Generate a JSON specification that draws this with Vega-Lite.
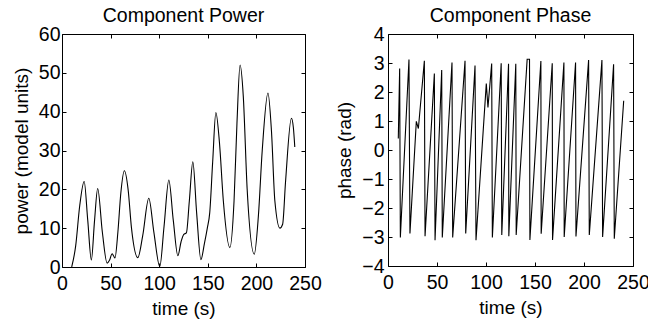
{
  "$schema": "https://vega.github.io/schema/vega-lite/v6.json",
  "background": "white",
  "padding": {"left": 11, "top": 5, "right": 5, "bottom": 5},
  "bounds": "flush",
  "spacing": 83,
  "config": {
    "view": {"stroke": "black", "strokeWidth": 1},
    "axis": {
      "grid": false, "domain": false, "tickColor": "black", "tickSize": -4,
      "labelColor": "black", "titleColor": "black",
      "labelFont": "Liberation Sans", "titleFont": "Liberation Sans",
      "labelFontSize": 19.5, "titleFontSize": 19, "titleFontWeight": "normal",
      "labelFlush": false, "labelOverlap": false
    },
    "axisX": {"labelPadding": 11, "titlePadding": 7},
    "axisY": {"labelPadding": 6, "titlePadding": 7},
    "title": {"font": "Liberation Sans", "fontSize": 19.5, "fontWeight": "normal", "color": "black", "offset": -2}
  },
  "datasets": {
    "power": [
      {"t":10,"p":0},{"t":14,"p":5.3},{"t":18.2,"p":15.7},{"t":22.8,"p":22.0},{"t":26.5,"p":12},{"t":30.2,"p":1.8},
      {"t":33.5,"p":12},{"t":36.7,"p":20.2},{"t":41.5,"p":9},{"t":46.4,"p":1.0},{"t":49,"p":1.8},{"t":51.5,"p":3.4},
      {"t":53,"p":2.9},{"t":54.5,"p":2.3},{"t":57.5,"p":9},{"t":60.5,"p":19},{"t":64.2,"p":24.8},{"t":68,"p":20},
      {"t":71.5,"p":10},{"t":78,"p":2.4},{"t":83,"p":8},{"t":89.3,"p":17.7},{"t":94.5,"p":9},{"t":100.6,"p":0.1},
      {"t":105,"p":10.5},{"t":109.9,"p":22.4},{"t":114.5,"p":12},{"t":119.2,"p":2.9},{"t":122.5,"p":6.5},{"t":125.3,"p":8.4},
      {"t":128,"p":8.8},{"t":131,"p":17},{"t":134.6,"p":27.1},{"t":138.5,"p":14},{"t":142.9,"p":1.9},{"t":146.5,"p":6},
      {"t":149.5,"p":10},{"t":152,"p":14},{"t":155,"p":27},{"t":158.3,"p":39.8},{"t":162,"p":32},{"t":166,"p":17},
      {"t":172.7,"p":5.0},{"t":177,"p":17},{"t":180,"p":37},{"t":183.2,"p":52},{"t":186.5,"p":44},{"t":190.5,"p":20},
      {"t":197.8,"p":3.3},{"t":202,"p":13},{"t":206,"p":30},{"t":211.9,"p":44.8},{"t":215.5,"p":35},{"t":219,"p":17},
      {"t":224.2,"p":10.0},{"t":227,"p":11},{"t":230,"p":22},{"t":236,"p":38.3},{"t":238,"p":36},{"t":239.5,"p":30.9}
    ],
    "phase": [
      {"t":10.5,"v":0.4},{"t":11.9,"v":2.81},{"t":12.6,"v":-3.02},{"t":21.4,"v":3.12},{"t":22.4,"v":-2.88},
      {"t":28.9,"v":0.99},{"t":31,"v":0.74},{"t":37.1,"v":3.08},{"t":37.8,"v":-2.97},{"t":47.3,"v":2.64},
      {"t":48,"v":-3.11},{"t":54.8,"v":2.76},{"t":55.4,"v":-3.02},{"t":65.3,"v":3.02},{"t":66,"v":-3.02},
      {"t":78.6,"v":3.08},{"t":79.3,"v":-2.88},{"t":88.8,"v":2.91},{"t":89.8,"v":-3.11},{"t":100.3,"v":2.29},
      {"t":102,"v":1.47},{"t":105.8,"v":2.98},{"t":106.5,"v":-3.02},{"t":115.5,"v":2.99},{"t":116.1,"v":-2.93},
      {"t":123,"v":2.97},{"t":123.3,"v":-2.97},{"t":130.4,"v":2.97},{"t":130.8,"v":-2.93},{"t":142,"v":3.13},
      {"t":144.4,"v":3.13},{"t":144.8,"v":-3.1},{"t":156,"v":3.07},{"t":156.3,"v":-2.89},{"t":167.6,"v":2.99},
      {"t":167.9,"v":-3.1},{"t":179.5,"v":3.02},{"t":179.8,"v":-3.0},{"t":191.4,"v":3.02},{"t":191.8,"v":-2.98},
      {"t":204.7,"v":3.1},{"t":205.4,"v":-2.93},{"t":218.3,"v":3.1},{"t":219,"v":-3.0},{"t":230.2,"v":2.96},
      {"t":230.9,"v":-3.06},{"t":240.5,"v":1.7}
    ]
  },
  "hconcat": [
    {
      "width": 243, "height": 233,
      "title": "Component Power",
      "data": {"name": "power"},
      "layer": [
        {
          "mark": {"type": "line", "color": "black", "strokeWidth": 1.1, "interpolate": "monotone"},
          "encoding": {
            "x": {"field": "t", "type": "quantitative", "scale": {"domain": [0, 250], "nice": false},
                  "axis": {"values": [0, 50, 100, 150, 200, 250], "title": "time (s)", "orient": "bottom"}},
            "y": {"field": "p", "type": "quantitative", "scale": {"domain": [0, 60], "nice": false},
                  "axis": {"values": [0, 10, 20, 30, 40, 50, 60], "title": "power (model units)", "orient": "left"}}
          }
        },
        {
          "mark": {"type": "line", "strokeOpacity": 0},
          "encoding": {
            "x": {"field": "t", "type": "quantitative", "scale": {"domain": [0, 250], "nice": false},
                  "axis": {"values": [0, 50, 100, 150, 200, 250], "title": null, "labels": false, "orient": "top"}},
            "y": {"field": "p", "type": "quantitative", "scale": {"domain": [0, 60], "nice": false},
                  "axis": {"values": [0, 10, 20, 30, 40, 50, 60], "title": null, "labels": false, "orient": "right"}}
          }
        }
      ],
      "resolve": {"axis": {"x": "independent", "y": "independent"}}
    },
    {
      "width": 245, "height": 232,
      "title": "Component Phase",
      "data": {"name": "phase"},
      "layer": [
        {
          "mark": {"type": "line", "color": "black", "strokeWidth": 1.1},
          "encoding": {
            "x": {"field": "t", "type": "quantitative", "scale": {"domain": [0, 250], "nice": false},
                  "axis": {"values": [0, 50, 100, 150, 200, 250], "title": "time (s)", "orient": "bottom"}},
            "y": {"field": "v", "type": "quantitative", "scale": {"domain": [-4, 4], "nice": false},
                  "axis": {"values": [-4, -3, -2, -1, 0, 1, 2, 3, 4], "title": "phase (rad)", "orient": "left", "labelPadding": 8}}
          }
        },
        {
          "mark": {"type": "line", "strokeOpacity": 0},
          "encoding": {
            "x": {"field": "t", "type": "quantitative", "scale": {"domain": [0, 250], "nice": false},
                  "axis": {"values": [0, 50, 100, 150, 200, 250], "title": null, "labels": false, "orient": "top"}},
            "y": {"field": "v", "type": "quantitative", "scale": {"domain": [-4, 4], "nice": false},
                  "axis": {"values": [-4, -3, -2, -1, 0, 1, 2, 3, 4], "title": null, "labels": false, "orient": "right"}}
          }
        }
      ],
      "resolve": {"axis": {"x": "independent", "y": "independent"}}
    }
  ]
}
